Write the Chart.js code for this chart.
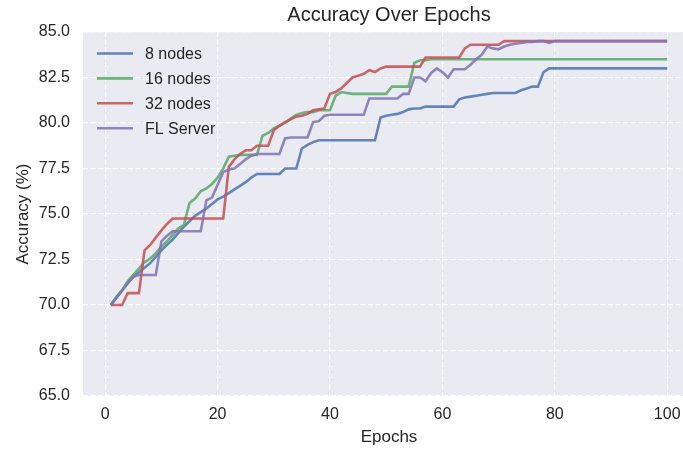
<!DOCTYPE html>
<html>
<head>
<meta charset="utf-8">
<script src="https://cdn.jsdelivr.net/npm/chart.js@4.4.1/dist/chart.umd.min.js"></script>
<style>
    html, body { margin: 0; padding: 0; background: #ffffff; overflow: hidden; }
    #wrap { width: 695px; height: 450px; position: relative; }
</style>
</head>
<body>
<div id="wrap"><canvas id="accChart"></canvas></div>
<script>
// epochs 1..100
const epochs = Array.from({ length: 100 }, (_, i) => i + 1);

const nodes8 = [
    70.0, 70.4, 70.8, 71.2, 71.55, 71.8, 72.05, 72.3, 72.65, 73.0,
    73.3, 73.6, 73.95, 74.3, 74.6, 74.9, 75.1, 75.3, 75.55, 75.8,
    75.95, 76.15, 76.35, 76.55, 76.75, 77.0, 77.2, 77.2, 77.2, 77.2,
    77.2, 77.5, 77.5, 77.5, 78.6, 78.8, 78.95, 79.05, 79.05, 79.05,
    79.05, 79.05, 79.05, 79.05, 79.05, 79.05, 79.05, 79.05, 80.3, 80.4,
    80.45, 80.5, 80.6, 80.75, 80.8, 80.8, 80.9, 80.9, 80.9, 80.9,
    80.9, 80.9, 81.3, 81.4, 81.45, 81.5, 81.55, 81.6, 81.65, 81.65,
    81.65, 81.65, 81.65, 81.8, 81.9, 82.0, 82.0, 82.8, 83.0, 83.0,
    83.0, 83.0, 83.0, 83.0, 83.0, 83.0, 83.0, 83.0, 83.0, 83.0,
    83.0, 83.0, 83.0, 83.0, 83.0, 83.0, 83.0, 83.0, 83.0, 83.0
];

const nodes16 = [
    70.0, 70.45, 70.8, 71.3, 71.65, 72.0, 72.35, 72.55, 72.85, 73.2,
    73.5, 73.85, 74.2, 74.4, 75.6, 75.85, 76.25, 76.4, 76.65, 77.0,
    77.5, 78.15, 78.2, 78.25, 78.25, 78.25, 78.25, 79.3, 79.45, 79.7,
    79.85, 80.0, 80.25, 80.45, 80.55, 80.6, 80.6, 80.7, 80.7, 80.7,
    81.5, 81.7, 81.65, 81.6, 81.6, 81.6, 81.6, 81.6, 81.6, 81.6,
    82.0, 82.0, 82.0, 82.0, 83.3, 83.45, 83.45, 83.5, 83.5, 83.5,
    83.5, 83.5, 83.5, 83.5, 83.5, 83.5, 83.5, 83.5, 83.5, 83.5,
    83.5, 83.5, 83.5, 83.5, 83.5, 83.5, 83.5, 83.5, 83.5, 83.5,
    83.5, 83.5, 83.5, 83.5, 83.5, 83.5, 83.5, 83.5, 83.5, 83.5,
    83.5, 83.5, 83.5, 83.5, 83.5, 83.5, 83.5, 83.5, 83.5, 83.5
];

const nodes32 = [
    70.0, 70.0, 70.0, 70.65, 70.65, 70.65, 73.0, 73.3, 73.7, 74.1,
    74.45, 74.75, 74.75, 74.75, 74.75, 74.75, 74.75, 74.75, 74.75, 74.75,
    74.75, 77.6, 78.0, 78.3, 78.5, 78.5, 78.75, 78.75, 78.75, 79.6,
    79.85, 80.05, 80.2, 80.35, 80.4, 80.5, 80.7, 80.75, 80.8, 81.6,
    81.7, 81.9, 82.2, 82.5, 82.6, 82.7, 82.9, 82.8, 83.0, 83.1,
    83.1, 83.1, 83.1, 83.1, 83.1, 83.1, 83.6, 83.6, 83.6, 83.6,
    83.6, 83.6, 83.6, 84.1, 84.3, 84.3, 84.3, 84.3, 84.3, 84.3,
    84.5, 84.5, 84.5, 84.5, 84.5, 84.5, 84.5, 84.5, 84.5, 84.5,
    84.5, 84.5, 84.5, 84.5, 84.5, 84.5, 84.5, 84.5, 84.5, 84.5,
    84.5, 84.5, 84.5, 84.5, 84.5, 84.5, 84.5, 84.5, 84.5, 84.5
];

const flServer = [
    70.0, 70.4, 70.8, 71.2, 71.55, 71.65, 71.65, 71.65, 71.65, 73.5,
    73.8, 74.05, 74.05, 74.05, 74.05, 74.05, 74.05, 75.75, 75.9, 76.6,
    77.3, 77.45, 77.5, 77.75, 78.0, 78.2, 78.3, 78.3, 78.3, 78.3,
    78.3, 79.15, 79.2, 79.2, 79.2, 79.2, 80.05, 80.1, 80.4, 80.45,
    80.45, 80.45, 80.45, 80.45, 80.45, 80.45, 81.35, 81.35, 81.35, 81.35,
    81.35, 81.35, 81.6, 81.6, 82.5, 82.5, 82.3, 82.75, 83.0, 82.8,
    82.5, 82.95, 82.95, 82.95, 83.2, 83.5, 83.75, 84.2, 84.1, 84.05,
    84.2, 84.3, 84.35, 84.4, 84.45, 84.45, 84.5, 84.5, 84.4, 84.5,
    84.5, 84.5, 84.5, 84.5, 84.5, 84.5, 84.5, 84.5, 84.5, 84.5,
    84.5, 84.5, 84.5, 84.5, 84.5, 84.5, 84.5, 84.5, 84.5, 84.5
];

const xTicks = [0, 20, 40, 60, 80, 100];

const textColor = '#262626';
Chart.defaults.font.family = "'Liberation Sans', Arial, sans-serif";
Chart.defaults.color = textColor;

function toPoints(values) {
    return values.map((v, i) => ({ x: epochs[i], y: v }));
}

// legend drawn inside the plot, top-left, no frame (like seaborn)
const innerLegend = {
    id: 'innerLegend',
    afterDatasetsDraw(chart) {
        const ctx = chart.ctx;
        const area = chart.chartArea;
        ctx.save();
        ctx.font = "16px 'Liberation Sans', Arial, sans-serif";
        ctx.textBaseline = 'middle';
        ctx.textAlign = 'left';
        chart.data.datasets.forEach((ds, i) => {
            const y = area.top + 21.5 + i * 24.9;
            ctx.strokeStyle = ds.borderColor;
            ctx.lineWidth = ds.borderWidth;
            ctx.beginPath();
            ctx.moveTo(area.left + 14, y);
            ctx.lineTo(area.left + 50, y);
            ctx.stroke();
            ctx.fillStyle = textColor;
            ctx.fillText(ds.label, area.left + 62, y + 1);
        });
        ctx.restore();
    }
};

const ctx = document.getElementById('accChart').getContext('2d');

new Chart(ctx, {
    type: 'line',
    data: {
        datasets: [
            { label: '8 nodes', data: toPoints(nodes8), borderColor: 'rgba(76, 114, 176, 0.85)', order: 3 },
            { label: '16 nodes', data: toPoints(nodes16), borderColor: 'rgba(85, 168, 104, 0.85)', order: 2 },
            { label: '32 nodes', data: toPoints(nodes32), borderColor: 'rgba(196, 78, 82, 0.85)', order: 1 },
            { label: 'FL Server', data: toPoints(flServer), borderColor: 'rgba(129, 114, 178, 0.85)', order: 0 }
        ].map(ds => Object.assign(ds, { borderWidth: 2.6, pointRadius: 0, fill: false, tension: 0 }))
    },
    options: {
        responsive: true,
        maintainAspectRatio: false,
        animation: false,
        layout: { padding: 0 },
        plugins: {
            legend: { display: false },
            tooltip: { enabled: false },
            title: {
                display: true,
                text: 'Accuracy Over Epochs',
                fullSize: false,
                color: textColor,
                font: { size: 20, weight: 'normal' },
                padding: { top: 3, bottom: 5 }
            }
        },
        scales: {
            x: {
                type: 'linear',
                min: -3.95,
                max: 104.95,
                afterBuildTicks: scale => { scale.ticks = xTicks.map(v => ({ value: v })); },
                afterFit: scale => { scale.height = 54; },
                ticks: { padding: 9, font: { size: 16 }, color: textColor },
                grid: { color: '#ffffff', lineWidth: 1.2, drawTicks: false },
                border: { display: false, dash: [5, 2.5] },
                title: { display: true, text: 'Epochs', font: { size: 17 }, color: textColor, padding: { top: 0, bottom: 2 } }
            },
            y: {
                min: 65,
                max: 85,
                afterFit: scale => { scale.width = 83; },
                ticks: { stepSize: 2.5, padding: 13, font: { size: 16 }, color: textColor, callback: v => v.toFixed(1) },
                grid: { color: '#ffffff', lineWidth: 1.2, drawTicks: false },
                border: { display: false, dash: [5, 2.5] },
                title: { display: true, text: 'Accuracy (%)', font: { size: 17 }, color: textColor, padding: { top: 13.5, bottom: 0 } }
            }
        }
    },
    plugins: [{
        id: 'plotBackground',
        beforeDraw(chart) {
            const a = chart.chartArea;
            chart.ctx.save();
            chart.ctx.fillStyle = '#EAEAF2';
            chart.ctx.fillRect(a.left, a.top, a.right - a.left, a.bottom - a.top);
            chart.ctx.restore();
        }
    }, innerLegend]
});
</script>
</body>
</html>
